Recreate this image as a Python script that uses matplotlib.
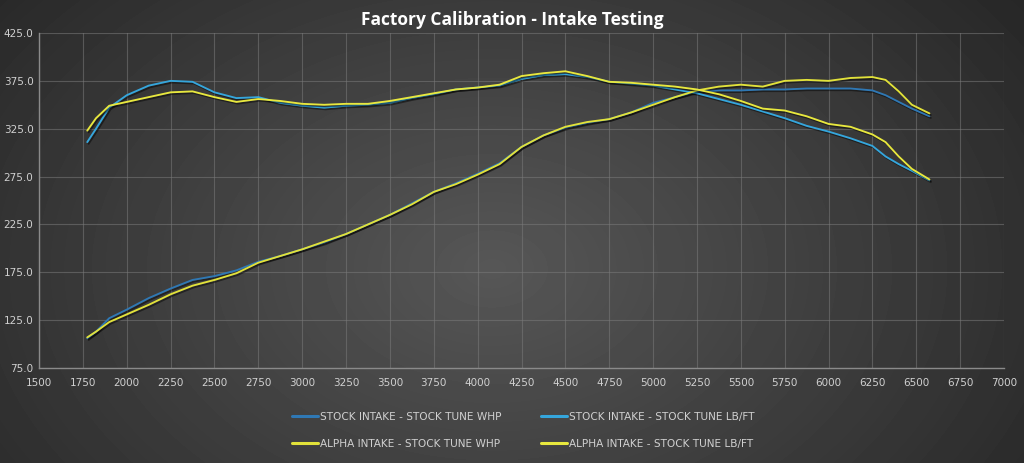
import matplotlib
matplotlib.use("Agg")
import matplotlib.pyplot as plt
import matplotlib.patheffects as pe
import numpy as np

rpm = [1775, 1825, 1900, 2000, 2125, 2250, 2375, 2500, 2625, 2750, 2875, 3000,
       3125, 3250, 3375, 3500, 3625, 3750, 3875, 4000, 4125, 4250, 4375, 4500,
       4625, 4750, 4875, 5000, 5125, 5250, 5375, 5500, 5625, 5750, 5875, 6000,
       6125, 6250, 6325, 6400, 6475, 6575]

stock_whp = [106, 113, 127, 136, 148, 158, 167, 171, 177, 186, 192, 199,
             206, 215, 225, 235, 247, 259, 268, 278, 289, 306, 318, 326,
             331, 335, 342, 352, 358, 364, 365, 365, 366, 366, 367, 367,
             367, 365, 360, 353, 346, 338]
stock_tq = [311, 325, 347, 360, 370, 375, 374, 363, 357, 358, 352, 349,
            347, 349, 350, 352, 357, 361, 366, 368, 370, 377, 381, 382,
            379, 374, 372, 370, 366, 362, 356, 350, 343, 336, 328, 322,
            315, 307, 296, 288, 281, 271]
alpha_whp = [107, 113, 123, 131, 141, 152, 161, 167, 174, 185, 192, 199,
             207, 215, 225, 235, 246, 259, 267, 277, 288, 306, 318, 327,
             332, 335, 342, 350, 358, 365, 369, 371, 369, 375, 376, 375,
             378, 379, 376, 364, 350, 341]
alpha_tq = [323, 336, 349, 353, 358, 363, 364, 358, 353, 356, 354, 351,
            350, 351, 351, 354, 358, 362, 366, 368, 371, 380, 383, 385,
            380, 374, 373, 371, 369, 366, 361, 354, 346, 344, 338, 330,
            327, 319, 311, 296, 283, 272]

labels = ["STOCK INTAKE - STOCK TUNE WHP", "STOCK INTAKE - STOCK TUNE LB/FT",
          "ALPHA INTAKE - STOCK TUNE WHP", "ALPHA INTAKE - STOCK TUNE LB/FT"]
series = [stock_whp, stock_tq, alpha_whp, alpha_tq]
line_colors = ["#2f78b4", "#35a6dc", "#e2e23a", "#e8e83e"]

W, H = 1024, 463
fig = plt.figure(figsize=(W / 100, H / 100), dpi=100)

# radial gradient background
bg = fig.add_axes([0, 0, 1, 1], zorder=0)
yy, xx = np.mgrid[0:H, 0:W]
r = np.sqrt(((xx - W * 0.48) / (W * 0.62)) ** 2 + ((yy - H * 0.58) / (H * 0.95)) ** 2)
shade = np.clip(0.34 - 0.18 * r, 0.14, 0.35)
bg.imshow(shade, cmap="gray", vmin=0, vmax=1, aspect="auto", interpolation="bilinear")
bg.axis("off")

ax = fig.add_axes([39 / W, 1 - 368 / H, (1004 - 39) / W, (368 - 33) / H], zorder=1)
ax.patch.set_alpha(0)

lines = []
for vals, lab, col in zip(series, labels, line_colors):
    ln, = ax.plot(rpm, vals, color=col, lw=1.35, label=lab, solid_capstyle="round",
                  path_effects=[pe.SimpleLineShadow(offset=(1, -1.2), shadow_color="black", alpha=0.45),
                                pe.Normal()])
    lines.append(ln)

ax.set_xlim(1500, 7000)
ax.set_ylim(75, 425)
ax.set_xticks(np.arange(1500, 7001, 250))
ax.set_yticks(np.arange(75, 426, 50))
ax.set_yticklabels([f"{v:.1f}" for v in np.arange(75, 426, 50)])
ax.grid(True, color="#7a7a7a", lw=0.8, alpha=0.55)
ax.set_axisbelow(True)
for s in ["top", "right"]:
    ax.spines[s].set_visible(False)
for s in ["left", "bottom"]:
    ax.spines[s].set_color("#8a8a8a")
    ax.spines[s].set_linewidth(1.0)
ax.tick_params(length=0, colors="#d0d0d0", labelsize=7.5, pad=7)
ax.tick_params(axis="y", pad=4)

fig.text(0.5, 1 - 20 / H, "Factory Calibration - Intake Testing", ha="center", va="center",
         color="white", fontsize=12.5, fontweight="bold", family=["Open Sans", "DejaVu Sans"])

# row-major legend order: matplotlib fills columns first
order = [0, 2, 1, 3]
leg = ax.legend([lines[i] for i in order], [labels[i] for i in order],
                loc="center", bbox_to_anchor=(0.502, -0.186), ncol=2, frameon=False,
                labelcolor="#d0d0d0", handlelength=2.4, handletextpad=0.2,
                columnspacing=3.8, labelspacing=1.6,
                prop={"family": "DejaVu Sans", "size": 7.6})
for h in leg.get_lines():
    h.set_linewidth(2.2)
    h.set_path_effects([])

fig.savefig("out.png", dpi=100)
